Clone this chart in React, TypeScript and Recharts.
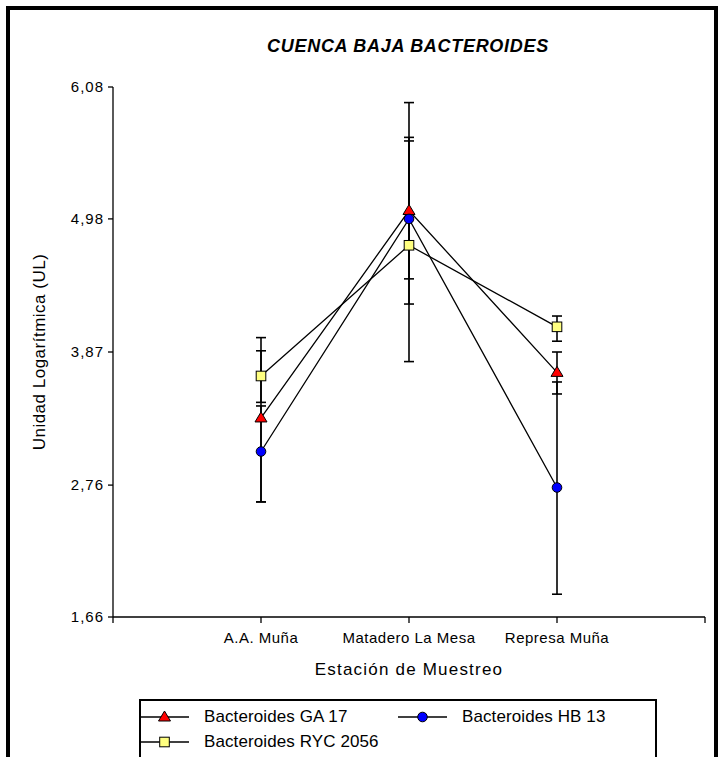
import { CartesianGrid, ErrorBar, Label, Line, LineChart, XAxis, YAxis } from "recharts";

const STATIONS = ["A.A. Muña", "Matadero La Mesa", "Represa Muña"];
const STATION_POS = [1, 2, 3];
const X_TICKS = [0, 1, 2, 3, 4];
const Y_TICKS = [1.66, 2.76, 3.87, 4.98, 6.08];

// means and the ends of the error bars
const GA17 = [3.32, 5.05, 3.7];
const GA17_LOW = [2.62, 4.48, 3.52];
const GA17_HIGH = [3.99, 5.63, 3.87];

const HB13 = [3.04, 4.98, 2.74];
const HB13_LOW = [2.62, 4.27, 1.85];
const HB13_HIGH = [3.42, 5.66, 3.62];

const RYC2056 = [3.67, 4.76, 4.08];
const RYC2056_LOW = [3.45, 3.79, 3.96];
const RYC2056_HIGH = [3.88, 5.95, 4.17];

const FONT = '"Liberation Sans", Arial, sans-serif';

const data = STATIONS.map((name, i) => ({
  name,
  x: STATION_POS[i],
  ga: GA17[i],
  gaErr: [GA17[i] - GA17_LOW[i], GA17_HIGH[i] - GA17[i]],
  hb: HB13[i],
  hbErr: [HB13[i] - HB13_LOW[i], HB13_HIGH[i] - HB13[i]],
  ryc: RYC2056[i],
  rycErr: [RYC2056[i] - RYC2056_LOW[i], RYC2056_HIGH[i] - RYC2056[i]],
}));

function TriangleMark({ cx, cy }: { cx: number; cy: number }) {
  return (
    <polygon
      points={`${cx},${cy - 6} ${cx + 6},${cy + 4} ${cx - 6},${cy + 4}`}
      fill="#ff0000"
      stroke="#000"
      strokeWidth={1}
    />
  );
}

function CircleMark({ cx, cy }: { cx: number; cy: number }) {
  return <circle cx={cx} cy={cy} r={4.8} fill="#0000ff" stroke="#000" strokeWidth={1} />;
}

function SquareMark({ cx, cy }: { cx: number; cy: number }) {
  return (
    <rect x={cx - 4.8} y={cy - 4.8} width={9.6} height={9.6} fill="#ffff80" stroke="#000" strokeWidth={1} />
  );
}

const SERIES = [
  { key: "ga", name: "Bacteroides GA 17", Mark: TriangleMark },
  { key: "hb", name: "Bacteroides HB 13", Mark: CircleMark },
  { key: "ryc", name: "Bacteroides RYC 2056", Mark: SquareMark },
];

function LegendItem({ name, Mark }: { name: string; Mark: typeof CircleMark }) {
  return (
    <div style={{ display: "flex", alignItems: "center", height: 25 }}>
      <svg width={49} height={16} style={{ marginLeft: -1 }}>
        <line x1={0} y1={8} x2={49} y2={8} stroke="#000" strokeWidth={1.3} />
        <Mark cx={24.5} cy={8} />
      </svg>
      <span style={{ marginLeft: 15, fontSize: 17, letterSpacing: 0.1, whiteSpace: "nowrap" }}>{name}</span>
    </div>
  );
}

export default function App() {
  return (
    <div
      style={{
        position: "absolute",
        left: 0,
        top: 0,
        width: 722,
        height: 757,
        overflow: "hidden",
        background: "#fff",
        fontFamily: FONT,
        color: "#000",
      }}
    >
      <div
        style={{
          position: "absolute",
          left: 6,
          top: 6,
          width: 704,
          height: 800,
          border: "4px solid #000",
        }}
      />
      <div
        style={{
          position: "absolute",
          left: 108,
          top: 36,
          width: 600,
          textAlign: "center",
          fontSize: 18,
          letterSpacing: 0.7,
          fontWeight: "bold",
          fontStyle: "italic",
        }}
      >
        CUENCA BAJA BACTEROIDES
      </div>

      <LineChart
        width={722}
        height={757}
        data={data}
        margin={{ top: 87, right: 17, bottom: 82, left: 33 }}
        style={{ position: "absolute", left: 0, top: 0 }}
      >
        <CartesianGrid stroke="none" />
        <XAxis
          type="number"
          dataKey="x"
          domain={[0, 4]}
          ticks={X_TICKS}
          allowDataOverflow
          tickFormatter={(v) => STATIONS[Number(v) - 1] ?? ""}
          axisLine={{ stroke: "#000", strokeWidth: 1.3 }}
          tickLine={{ stroke: "#000", strokeWidth: 1.3 }}
          tickSize={6}
          tickMargin={9}
          height={58}
          tick={{ fill: "#000", fontSize: 15, fontFamily: FONT, letterSpacing: 0.5 }}
        >
          <Label
            value="Estación de Muestreo"
            position="insideBottom"
            offset={0}
            style={{ fill: "#000", fontSize: 17, fontFamily: FONT, letterSpacing: 1.2 }}
          />
        </XAxis>
        <YAxis
          type="number"
          domain={[1.66, 6.08]}
          ticks={Y_TICKS}
          allowDataOverflow
          tickFormatter={(v) => Number(v).toFixed(2).replace(".", ",")}
          axisLine={{ stroke: "#000", strokeWidth: 1.3 }}
          tickLine={{ stroke: "#000", strokeWidth: 1.3 }}
          tickSize={5}
          tickMargin={4}
          width={80}
          tick={{ fill: "#000", fontSize: 15, fontFamily: FONT, letterSpacing: 1 }}
        >
          <Label
            value="Unidad Logarítmica (UL)"
            angle={-90}
            position="insideLeft"
            offset={6}
            style={{ fill: "#000", fontSize: 17, fontFamily: FONT, letterSpacing: 0.5, textAnchor: "middle" }}
          />
        </YAxis>
        {SERIES.map(({ key, Mark }) => (
          <Line
            key={key}
            dataKey={key}
            type="linear"
            stroke="#000"
            strokeWidth={1.3}
            isAnimationActive={false}
            activeDot={false}
            dot={(p: any) => <Mark key={`${key}-${p.index}`} cx={p.cx} cy={p.cy} />}
          >
            <ErrorBar
              dataKey={`${key}Err`}
              direction="y"
              width={5}
              stroke="#000"
              strokeWidth={1.6}
              isAnimationActive={false}
            />
          </Line>
        ))}
      </LineChart>

      <div
        style={{
          position: "absolute",
          left: 139,
          top: 699,
          width: 514,
          height: 100,
          border: "2px solid #000",
          paddingTop: 3,
        }}
      >
        <div style={{ display: "flex" }}>
          <div style={{ width: 258 }}>
            <LegendItem name={SERIES[0].name} Mark={SERIES[0].Mark} />
          </div>
          <LegendItem name={SERIES[1].name} Mark={SERIES[1].Mark} />
        </div>
        <LegendItem name={SERIES[2].name} Mark={SERIES[2].Mark} />
      </div>
    </div>
  );
}
